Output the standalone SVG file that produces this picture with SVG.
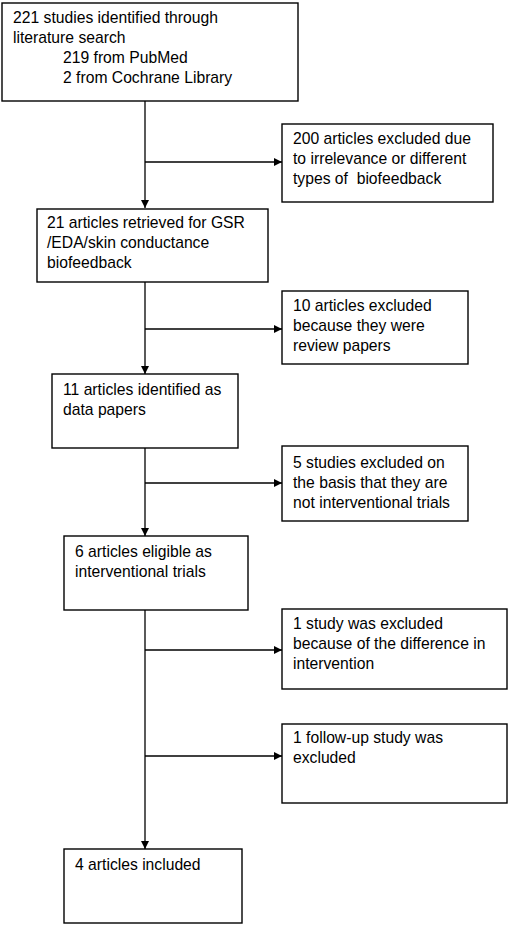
<svg xmlns="http://www.w3.org/2000/svg" width="510" height="926" viewBox="0 0 510 926">
<style>
.box{fill:#fff;stroke:#000;stroke-width:1.4}
.t{font-family:"Liberation Sans",Arial,sans-serif;font-size:15.7px;fill:#000}
.c{stroke:#000;stroke-width:1.3;fill:none}
</style>
<defs>
<marker id="ah" viewBox="0 0 10 10" refX="10" refY="5" markerWidth="8" markerHeight="8" markerUnits="userSpaceOnUse" orient="auto">
<path d="M0,0 L10,5 L0,10 z" fill="#000"/>
</marker>
</defs>
<rect width="510" height="926" fill="#fff"/>
<g id="connectors">
<line class="c" x1="145" y1="101" x2="145" y2="208" marker-end="url(#ah)"/>
<line class="c" x1="145" y1="282" x2="145" y2="374" marker-end="url(#ah)"/>
<line class="c" x1="145" y1="448" x2="145" y2="536" marker-end="url(#ah)"/>
<line class="c" x1="145" y1="610" x2="145" y2="849" marker-end="url(#ah)"/>
<line class="c" x1="145" y1="162" x2="282" y2="162" marker-end="url(#ah)"/>
<line class="c" x1="145" y1="329" x2="282" y2="329" marker-end="url(#ah)"/>
<line class="c" x1="145" y1="483" x2="282" y2="483" marker-end="url(#ah)"/>
<line class="c" x1="145" y1="650" x2="282" y2="650" marker-end="url(#ah)"/>
<line class="c" x1="145" y1="756" x2="282" y2="756" marker-end="url(#ah)"/>
</g>
<g id="n1">
<rect class="box" x="2" y="3" width="296" height="98"/>
<text class="t" x="13" y="23">221 studies identified through</text>
<text class="t" x="13" y="43">literature search</text>
<text class="t" x="63" y="63">219 from PubMed</text>
<text class="t" x="63" y="83">2 from Cochrane Library</text>
</g>
<g id="n2">
<rect class="box" x="282" y="124" width="211" height="78"/>
<text class="t" x="293" y="144">200 articles excluded due</text>
<text class="t" x="293" y="164">to irrelevance or different</text>
<text class="t" x="293" y="184" xml:space="preserve">types of  biofeedback</text>
</g>
<g id="n3">
<rect class="box" x="37" y="209" width="231" height="73"/>
<text class="t" x="47" y="228">21 articles retrieved for GSR</text>
<text class="t" x="47" y="248">/EDA/skin conductance</text>
<text class="t" x="47" y="268">biofeedback</text>
</g>
<g id="n4">
<rect class="box" x="282" y="291" width="186" height="73"/>
<text class="t" x="293" y="311">10 articles excluded</text>
<text class="t" x="293" y="331">because they were</text>
<text class="t" x="293" y="351">review papers</text>
</g>
<g id="n5">
<rect class="box" x="52" y="374" width="186" height="74"/>
<text class="t" x="63" y="395">11 articles identified as</text>
<text class="t" x="63" y="415">data papers</text>
</g>
<g id="n6">
<rect class="box" x="282" y="446" width="186" height="75"/>
<text class="t" x="293" y="468">5 studies excluded on</text>
<text class="t" x="293" y="488">the basis that they are</text>
<text class="t" x="293" y="508">not interventional trials</text>
</g>
<g id="n7">
<rect class="box" x="64" y="536" width="184" height="74"/>
<text class="t" x="75" y="557">6 articles eligible as</text>
<text class="t" x="75" y="577">interventional trials</text>
</g>
<g id="n8">
<rect class="box" x="282" y="609" width="225" height="80"/>
<text class="t" x="293" y="629">1 study was excluded</text>
<text class="t" x="293" y="649">because of the difference in</text>
<text class="t" x="293" y="669">intervention</text>
</g>
<g id="n9">
<rect class="box" x="282" y="724" width="225" height="79"/>
<text class="t" x="293" y="743">1 follow-up study was</text>
<text class="t" x="293" y="763">excluded</text>
</g>
<g id="n10">
<rect class="box" x="64" y="849" width="178" height="74"/>
<text class="t" x="75" y="870">4 articles included</text>
</g>
</svg>
